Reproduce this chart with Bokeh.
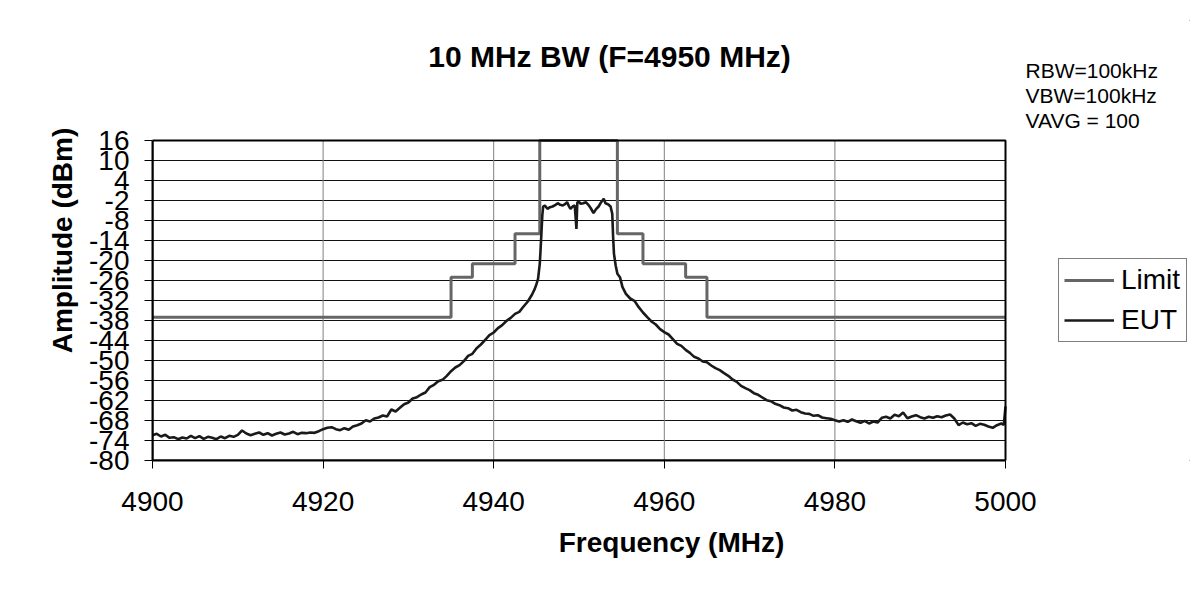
from bokeh.plotting import figure
from bokeh.models import Legend, LegendItem, FixedTicker, Range1d, Label, InlineStyleSheet
from bokeh.embed import file_html
from bokeh.resources import INLINE

# ---------------- data ----------------
title_text = "10 MHz BW (F=4950 MHz)"
x_label = "Frequency (MHz)"
y_label = "Amplitude (dBm)"
x_ticks = [4900, 4920, 4940, 4960, 4980, 5000]
y_ticks = [-80, -74, -68, -62, -56, -50, -44, -38, -32, -26, -20, -14, -8, -2, 4, 10, 16]
y_tick_labels = ["-80", "-74", "-68", "-62", "-56", "-50", "-44", "-38", "-32",
                 "-26", "-20", "-14", "-8", "-2", "4", "10", "16"]
notes = ["RBW=100kHz", "VBW=100kHz", "VAVG = 100"]
series_names = ["Limit", "EUT"]

# Limit mask (step edges in MHz, level held after each edge, dBm)
limit_edges = [4900, 4935, 4937.5, 4942.5, 4945.4, 4954.5, 4957.5, 4962.5, 4965, 5000]
limit_levels = [-37, -25, -21, -12, 16, -12, -21, -25, -37, -37]

# EUT measured trace
eut_freq = [
    4900, 4900.5, 4901, 4901.5, 4902, 4902.5, 4903, 4903.5, 4904, 4904.5,
    4905, 4905.5, 4906, 4906.5, 4907, 4907.5, 4908, 4908.5, 4909, 4909.5,
    4910, 4910.5, 4911, 4911.5, 4912, 4912.5, 4913, 4913.5, 4914, 4914.5,
    4915, 4915.5, 4916, 4916.5, 4917, 4917.5, 4918, 4918.5, 4919, 4919.5,
    4920, 4920.5, 4921, 4921.5, 4922, 4922.5, 4923, 4923.5, 4924, 4924.5,
    4925, 4925.5, 4926, 4926.5, 4927, 4927.5, 4928, 4928.5, 4929, 4929.5,
    4930, 4930.5, 4931, 4931.5, 4932, 4932.5, 4933, 4933.5, 4934, 4934.5,
    4935, 4935.5, 4936, 4936.5, 4937, 4937.5, 4938, 4938.5, 4939, 4939.5,
    4940, 4940.5, 4941, 4941.5, 4942, 4942.5, 4943, 4943.5, 4944, 4944.5,
    4944.8, 4945.0, 4945.2, 4945.4, 4945.5, 4945.6, 4945.7, 4945.8, 4946.0, 4946.3,
    4946.6, 4946.9, 4947.2, 4947.5, 4947.8, 4948.1, 4948.4, 4948.6, 4948.8, 4949.0,
    4949.3, 4949.5, 4949.7, 4949.8, 4950.0, 4950.2, 4950.5, 4950.8, 4951.1, 4951.4,
    4951.7, 4952.0, 4952.3, 4952.6, 4952.9, 4953.1, 4953.4, 4953.7, 4953.9, 4954.0,
    4954.1, 4954.3, 4954.5, 4954.8, 4955.1, 4955.5, 4956.0, 4956.5, 4957.0, 4957.5,
    4958.0, 4958.5, 4959.0, 4959.5, 4960.0, 4960.5, 4961.0, 4961.5, 4962.0, 4962.5,
    4963.0, 4963.5, 4964.0, 4964.5, 4965.0, 4965.5, 4966.0, 4966.5, 4967.0, 4967.5,
    4968.0, 4968.5, 4969.0, 4969.5, 4970.0, 4970.5, 4971.0, 4971.5, 4972.0, 4972.5,
    4973.0, 4973.5, 4974.0, 4974.5, 4975.0, 4975.5, 4976.0, 4976.5, 4977.0, 4977.5,
    4978.0, 4978.5, 4979.0, 4979.5, 4980.0, 4980.5, 4981.0, 4981.5, 4982.0, 4982.5,
    4983.0, 4983.5, 4984.0, 4984.5, 4985.0, 4985.5, 4986.0, 4986.5, 4987.0, 4987.5,
    4988.0, 4988.5, 4989.0, 4989.5, 4990.0, 4990.5, 4991.0, 4991.5, 4992.0, 4992.5,
    4993.0, 4993.5, 4994.0, 4994.5, 4995.0, 4995.5, 4996.0, 4996.5, 4997.0, 4997.5,
    4998.0, 4998.5, 4999.0, 4999.5, 4999.8, 5000.0,
]
eut_db = [
    -72.4, -72.0, -72.8, -72.3, -73.2, -73.0, -73.6, -73.1, -73.4, -72.6,
    -73.3, -72.7, -73.5, -72.9, -73.2, -73.6, -72.8, -73.3, -72.6, -72.9,
    -72.3, -71.0, -71.9, -72.4, -72.0, -71.6, -72.3, -71.8, -72.5, -72.0,
    -71.6, -72.2, -71.9, -71.4, -72.1, -71.7, -71.8, -71.6, -71.7, -71.2,
    -70.6, -70.2, -70.0, -70.6, -70.9, -70.3, -70.8, -69.8, -69.4, -68.9,
    -67.9, -68.3, -67.4, -67.1, -66.5, -66.8, -64.7, -65.3, -64.2, -63.1,
    -62.6, -61.4, -61.0, -60.2, -59.6, -58.0, -57.3, -56.2, -55.8, -54.6,
    -53.2, -52.1, -51.4, -50.2, -48.6, -48.0, -46.3, -45.2, -43.8, -42.4,
    -41.6, -40.3, -39.4, -38.1, -37.2, -36.0, -35.4, -33.8, -32.3, -30.2,
    -28.6, -27.2, -25.5, -21.0, -16.5, -11.5, -6.5, -3.8, -3.5, -4.5,
    -4.0, -3.8, -3.4, -2.8, -3.3, -3.5, -3.0, -2.5, -3.6, -4.5,
    -3.7, -3.5, -10.5, -2.6, -2.4, -3.0, -2.8, -2.5, -3.3, -4.4,
    -5.8, -4.6, -3.8, -2.5, -1.5, -2.8, -3.1, -3.8, -6.0, -13.0,
    -18.0, -21.5, -24.0, -25.0, -28.0, -30.0, -31.4, -32.1, -34.0, -35.6,
    -37.0, -38.3, -39.2, -40.6, -41.5, -42.2, -43.6, -45.0, -45.6, -46.8,
    -47.7, -48.9, -49.4, -50.3, -50.5, -51.5, -52.3, -52.9, -53.8, -54.6,
    -55.7, -56.4, -57.6, -58.3, -58.9, -59.8, -60.3, -61.1, -61.9, -62.2,
    -63.0, -63.4, -64.1, -64.3, -65.0, -64.8, -65.5, -65.9, -66.0, -66.6,
    -66.4, -67.1, -67.3, -67.5, -67.9, -68.3, -67.9, -68.4, -67.7, -68.2,
    -68.7, -68.1, -68.9, -68.3, -68.6, -67.2, -66.9, -67.4, -66.3, -66.7,
    -65.6, -67.3, -66.8, -66.4, -67.0, -67.4, -66.9, -67.2, -66.7, -67.0,
    -66.5, -66.2, -67.4, -69.4, -68.6, -69.1, -68.8, -69.6, -69.0, -69.3,
    -69.8, -70.2, -69.4, -68.9, -69.3, -63.8,
]

# ---------------- layout (pixels) ----------------
W, H = 1191, 594
FL, FT = 152, 20                 # frame left / top inside the figure
FR = W - 1                       # frame right (frame also hosts title, notes, legend)
FB = 460                         # frame bottom
PLOT_W, PLOT_H = 853, 320        # pixel size of the actual data area
FONT = "Liberation Sans"

X0, X1 = x_ticks[0], x_ticks[-1]
Y0, Y1 = y_ticks[0], y_ticks[-1]
x_end = X0 + (FR - FL) / PLOT_W * (X1 - X0)
y_end = Y0 + (FB - FT) / PLOT_H * (Y1 - Y0)

p = figure(width=W, height=H, output_backend="svg", toolbar_location=None,
           x_range=Range1d(X0, x_end), y_range=Range1d(Y0, y_end),
           min_border_left=FL, min_border_right=W - FR,
           min_border_top=FT, min_border_bottom=H - FB,
           stylesheets=[InlineStyleSheet(css=":host { outline: 1px solid black; outline-offset: -2px; }")])
p.title.visible = False
p.background_fill_color = "white"
p.border_fill_color = "white"
p.outline_line_color = None
p.xgrid.visible = False
p.ygrid.visible = False

p.xaxis.ticker = FixedTicker(ticks=x_ticks)
p.yaxis.ticker = FixedTicker(ticks=y_ticks)
p.yaxis.major_label_overrides = dict(zip(y_ticks, y_tick_labels))
p.xaxis.bounds = (X0, X1)
p.yaxis.bounds = (Y0, Y1)

for ax in (p.xaxis[0], p.yaxis[0]):
    ax.axis_line_color = "black"
    ax.axis_line_width = 2
    ax.major_tick_out = 8
    ax.major_tick_in = 0
    ax.major_tick_line_color = "black"
    ax.minor_tick_line_color = None
    ax.major_label_text_font = FONT
    ax.major_label_text_font_size = "28px"
    ax.major_label_text_color = "black"
    ax.axis_label_text_font = FONT
    ax.axis_label_text_font_size = "28px"
    ax.axis_label_text_font_style = "bold"
    ax.axis_label_text_color = "black"

p.xaxis.axis_label = x_label
p.yaxis.axis_label = y_label
p.xaxis.major_label_standoff = 23
p.yaxis.major_label_standoff = 15
p.xaxis.axis_label_standoff = 13
p.yaxis.axis_label_standoff = 8

# grid lines limited to the data area (from the tick lists)
p.segment(x0=[X0] * len(y_ticks), x1=[X1] * len(y_ticks), y0=y_ticks, y1=y_ticks,
          line_color="#111111", line_width=1)
p.segment(x0=x_ticks, x1=x_ticks, y0=[Y0] * len(x_ticks), y1=[Y1] * len(x_ticks),
          line_color="#808080", line_width=1)

limit_r = p.step(limit_edges, limit_levels, mode="after",
                 line_color="#666666", line_width=3)
eut_r = p.line(eut_freq, eut_db, line_color="#1a1a1a", line_width=2.6)

# plot-area border
p.quad(left=[X0], right=[X1], bottom=[Y0], top=[Y1], fill_alpha=0,
       line_color="black", line_width=2)

# title (screen units: from frame left / frame bottom)
p.add_layout(Label(x=609 - FL, y=FB - 56, x_units="screen", y_units="screen",
                   text=title_text, text_font=FONT, text_font_size="30px",
                   text_font_style="bold", text_align="center", text_baseline="middle",
                   text_color="black"))

# measurement notes
for i, t in enumerate(notes):
    p.add_layout(Label(x=1025 - FL, y=FB - (70 + 25 * i),
                       x_units="screen", y_units="screen", text=t,
                       text_font=FONT, text_font_size="21px", text_align="left",
                       text_baseline="middle", text_color="black"))

# series legend
legend = Legend(items=[LegendItem(label=series_names[0], renderers=[limit_r]),
                       LegendItem(label=series_names[1], renderers=[eut_r])],
                location=(1058 - FL, FB - 342))
legend.label_text_font = FONT
legend.label_text_font_size = "28px"
legend.label_text_color = "black"
legend.glyph_width = 50
legend.glyph_height = 28
legend.label_height = 28
legend.label_width = 60
legend.label_standoff = 7
legend.padding = 5
legend.spacing = 8
legend.margin = 0
legend.border_line_color = "black"
legend.border_line_width = 1
legend.background_fill_color = "white"
legend.background_fill_alpha = 1
p.add_layout(legend)

open("out.html", "w").write(file_html(p, INLINE))
